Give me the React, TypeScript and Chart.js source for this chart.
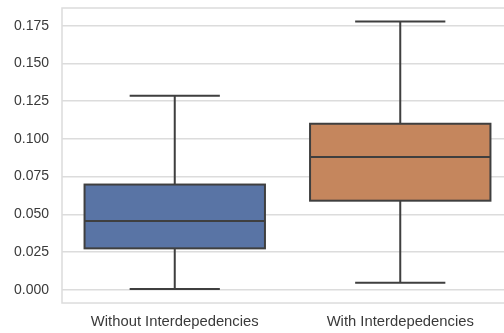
import React, { useEffect, useRef } from "react";
import { Chart, registerables } from "chart.js";

Chart.register(...registerables);

const categories = ["Without Interdepedencies", "With Interdepedencies"];
const whiskerLow = [0.0005, 0.0046];
const q1 = [0.0274, 0.059];
const median = [0.0455, 0.088];
const q3 = [0.0697, 0.11];
const whiskerHigh = [0.1286, 0.1777];
const yTicks = [0, 0.025, 0.05, 0.075, 0.1, 0.125, 0.15, 0.175];
const boxColors = ["#5974a5", "#c5865d"];
const lineColor = "#3f3f3f";
const gridColor = "#dcdcdc";

const boxPlugin = {
  id: "boxWhiskers",
  beforeDatasetsDraw(chart: any) {
    const ctx = chart.ctx;
    const y = chart.scales.y;
    const meta = chart.getDatasetMeta(0);
    ctx.save();
    ctx.strokeStyle = lineColor;
    ctx.lineWidth = 2;
    meta.data.forEach((el: any, i: number) => {
      const x = el.x;
      const cap = el.width / 4;
      const yLo = y.getPixelForValue(whiskerLow[i]);
      const yHi = y.getPixelForValue(whiskerHigh[i]);
      const yQ1 = y.getPixelForValue(q1[i]);
      const yQ3 = y.getPixelForValue(q3[i]);
      ctx.beginPath();
      ctx.moveTo(x, yQ3);
      ctx.lineTo(x, yHi);
      ctx.moveTo(x - cap, yHi);
      ctx.lineTo(x + cap, yHi);
      ctx.moveTo(x, yQ1);
      ctx.lineTo(x, yLo);
      ctx.moveTo(x - cap, yLo);
      ctx.lineTo(x + cap, yLo);
      ctx.stroke();
    });
    ctx.restore();
  },
  afterDatasetsDraw(chart: any) {
    const ctx = chart.ctx;
    const y = chart.scales.y;
    const meta = chart.getDatasetMeta(0);
    ctx.save();
    ctx.strokeStyle = lineColor;
    ctx.lineWidth = 2;
    meta.data.forEach((el: any, i: number) => {
      const left = el.x - el.width / 2;
      const right = el.x + el.width / 2;
      const top = Math.min(el.y, el.base);
      const bottom = Math.max(el.y, el.base);
      ctx.strokeRect(left, top, right - left, bottom - top);
      const ym = y.getPixelForValue(median[i]);
      ctx.beginPath();
      ctx.moveTo(left, ym);
      ctx.lineTo(right, ym);
      ctx.stroke();
    });
    ctx.restore();
  },
  beforeDraw(chart: any) {
    const ctx = chart.ctx;
    ctx.save();
    ctx.fillStyle = "#ffffff";
    ctx.fillRect(0, 0, chart.width, chart.height);
    ctx.restore();
  },
  afterDraw(chart: any) {
    const ctx = chart.ctx;
    const a = chart.chartArea;
    ctx.save();
    ctx.strokeStyle = gridColor;
    ctx.lineWidth = 1.5;
    ctx.strokeRect(a.left, a.top, a.right - a.left, a.bottom - a.top);
    ctx.restore();
  },
};

export default function App() {
  const ref = useRef<HTMLCanvasElement>(null);
  useEffect(() => {
    if (!ref.current) return;
    const chart = new Chart(ref.current, {
      type: "bar",
      data: {
        labels: categories,
        datasets: [
          {
            data: categories.map((_, i) => [q1[i], q3[i]]) as any,
            backgroundColor: boxColors,
            borderWidth: 0,
            barPercentage: 0.8,
            categoryPercentage: 1.0,
          },
        ],
      },
      options: {
        animation: false,
        responsive: false,
        devicePixelRatio: 1,
        layout: { padding: { top: 8, left: 0, right: 0, bottom: 0 } },
        plugins: {
          legend: { display: false },
          tooltip: { enabled: false },
        },
        scales: {
          x: {
            offset: true,
            grid: { display: false, drawTicks: false },
            border: { display: false },
            ticks: {
              color: "#3a3a3a",
              padding: 10,
              font: { family: "'Liberation Sans', Arial, sans-serif", size: 14.8 },
            },
            afterFit: (s: any) => {
              s.height = 30;
              s.paddingLeft = 0;
              s.paddingRight = 0;
            },
          },
          y: {
            min: -0.00882,
            max: 0.18673,
            grid: { color: gridColor, lineWidth: 1.5, drawTicks: false },
            border: { display: false },
            afterBuildTicks: (s: any) => {
              s.ticks = yTicks.map((v) => ({ value: v }));
            },
            ticks: {
              color: "#3a3a3a",
              padding: 13,
              font: { family: "'Liberation Sans', Arial, sans-serif", size: 14 },
              callback: (v: any) => Number(v).toFixed(3),
            },
            afterFit: (s: any) => {
              s.width = 62;
              s.paddingTop = 0;
              s.paddingBottom = 0;
            },
          },
        },
      },
      plugins: [boxPlugin],
    });
    return () => chart.destroy();
  }, []);
  return (
    <div
      style={{
        position: "fixed",
        left: 0,
        top: 0,
        width: 504,
        height: 333,
        overflow: "hidden",
        background: "#ffffff",
      }}
    >
      <canvas ref={ref} width={513} height={333} style={{ display: "block" }} />
    </div>
  );
}
